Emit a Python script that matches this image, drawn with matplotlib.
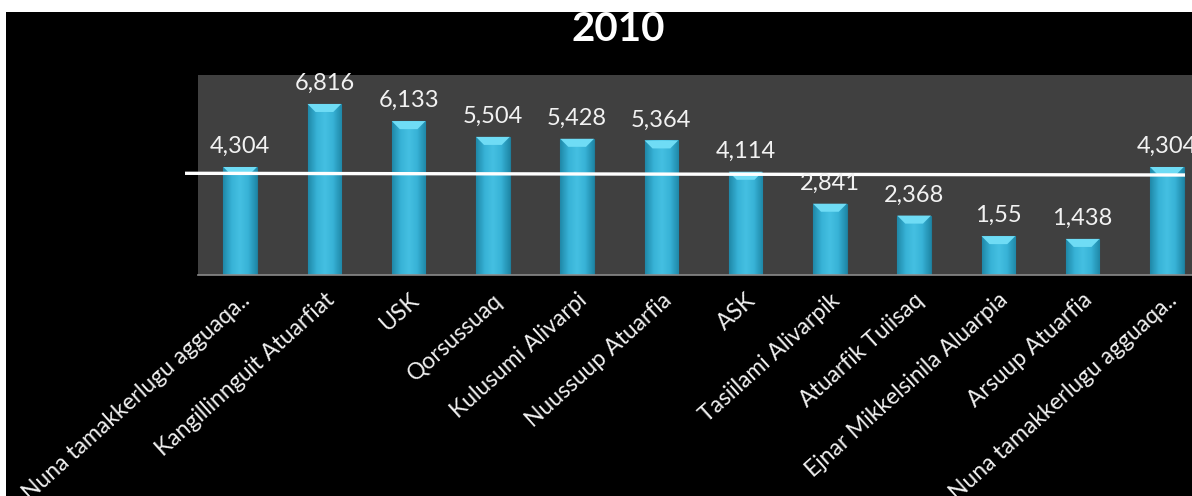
import matplotlib
matplotlib.use("Agg")
import matplotlib.pyplot as plt
import numpy as np
from matplotlib.patches import Rectangle, Polygon
from matplotlib.colors import LinearSegmentedColormap
from matplotlib.transforms import ScaledTranslation

categories = ["Nuna tamakkerlugu agguaqa..", "Kangillinnguit Atuarfiat", "USK",
              "Qorsussuaq", "Kulusumi Alivarpi", "Nuussuup Atuarfia", "ASK",
              "Tasiilami Alivarpik", "Atuarfik Tuiisaq", "Ejnar Mikkelsinila Aluarpia",
              "Arsuup Atuarfia", "Nuna tamakkerlugu agguaqa.."]
values = [4304, 6816, 6133, 5504, 5428, 5364, 4114, 2841, 2368, 1550, 1438, 4304]
value_labels = ["4,304", "6,816", "6,133", "5,504", "5,428", "5,364", "4,114",
                "2,841", "2,368", "1,55", "1,438", "4,304"]
ref_line_x = [-0.654, 11.215]
ref_line_y = [4053, 3985]
title = "2010"

plt.rcParams['font.family'] = ['Lato', 'DejaVu Sans']

W, H = 1192, 496
fig = plt.figure(figsize=(W / 100, H / 100), dpi=100, facecolor='black')
# white strips at top and left of the picture
fig.patches.append(Rectangle((0, 1 - 12 / H), 1, 12 / H, transform=fig.transFigure,
                             facecolor='white', edgecolor='none', zorder=10))
fig.patches.append(Rectangle((0, 0), 6 / W, 1, transform=fig.transFigure,
                             facecolor='white', edgecolor='none', zorder=10))

ax = fig.add_axes([198 / W, 221 / H, (1209 - 198) / W, 200 / H])
ax.set_facecolor('#404040')
for s in ['top', 'left', 'right']:
    ax.spines[s].set_visible(False)
ax.spines['bottom'].set_color('#8a8a8a')
ax.spines['bottom'].set_linewidth(1.2)
ax.set_yticks([])

x = np.arange(len(values))
bw = 0.40
bars = ax.bar(x, values, width=bw, color='#38b4d8', edgecolor='#1f7f9c', linewidth=0.8, zorder=2)

cmap = LinearSegmentedColormap.from_list('barg', ['#1f88a8', '#37b2d6', '#45c0e2', '#37b2d6', '#1f88a8'])
grad = np.linspace(0, 1, 64).reshape(1, -1)
bev_x = 0.095
bev_y = 320
for xi, v, b in zip(x, values, bars):
    im = ax.imshow(grad, cmap=cmap, aspect='auto', extent=(xi - bw / 2, xi + bw / 2, 0, v),
                   zorder=2.1, interpolation='bicubic')
    im.set_clip_path(b)
    top = Polygon([(xi - bw / 2, v), (xi + bw / 2, v), (xi + bw / 2 - bev_x, v - bev_y),
                   (xi - bw / 2 + bev_x, v - bev_y)], closed=True,
                  facecolor='#6fdcf5', edgecolor='none', zorder=2.2)
    ax.add_patch(top)
    ax.annotate(value_labels[xi], (xi, v), xytext=(0, 10), textcoords='offset points',
                ha='center', va='baseline', color='#f2f2f2', fontsize=17,
                annotation_clip=False, zorder=4)

ax.set_xlim(-0.5, len(values) - 0.5)
ax.set_ylim(0, 7970)
ax.plot(ref_line_x, ref_line_y, color='white', lw=2.4, zorder=3, clip_on=False, solid_capstyle='butt')

ax.set_xticks(x)
ax.set_xticklabels(categories, rotation=42, ha='right', va='center', rotation_mode='anchor',
                   color='#f0f0f0', fontsize=16.5)
ax.tick_params(axis='x', length=0, pad=16)
offset = ScaledTranslation(7 / 100, 0, fig.dpi_scale_trans)
for lab in ax.get_xticklabels():
    lab.set_transform(lab.get_transform() + offset)

fig.text(618 / W, 1 - 11 / H, title, ha='center', va='top', color='white',
         fontsize=29, fontweight='bold')

fig.savefig('out.png', dpi=100, facecolor=fig.get_facecolor())
